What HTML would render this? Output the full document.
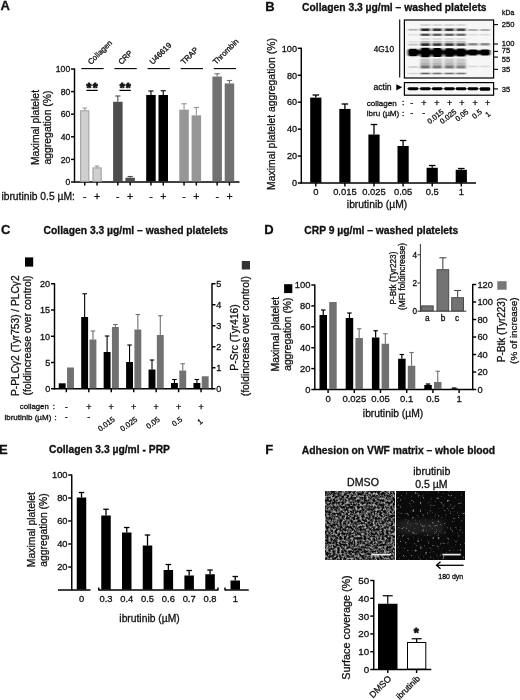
<!DOCTYPE html>
<html lang="en"><head><meta charset="utf-8"><title>Figure</title>
<style>
html,body{margin:0;padding:0;background:#fff;}
body{width:520px;height:700px;overflow:hidden;}
svg{display:block;font-family:"Liberation Sans", sans-serif;}
text{fill:#111;stroke:#111;stroke-width:0.3px;}
</style></head>
<body>
<svg width="520" height="700" viewBox="0 0 520 700" style="filter:blur(0.28px)">
<defs>
<filter id="blur1" x="0" y="0" width="100%" height="100%" filterUnits="userSpaceOnUse"><feGaussianBlur stdDeviation="0.8 0.6"/></filter>
<filter id="blur2" x="0" y="0" width="100%" height="100%" filterUnits="userSpaceOnUse"><feGaussianBlur stdDeviation="0.7 0.5"/></filter>
<filter id="blur3" x="390" y="510" width="80" height="40" filterUnits="userSpaceOnUse"><feGaussianBlur stdDeviation="3 2"/></filter>
<filter id="spk1" x="325.6" y="491.2" width="68.8" height="68.3" filterUnits="userSpaceOnUse" color-interpolation-filters="sRGB">
  <feTurbulence type="fractalNoise" baseFrequency="0.45" numOctaves="4" seed="3" result="n"/>
  <feColorMatrix in="n" type="matrix" values="0 0 0 2.6 -0.93  0 0 0 2.6 -0.93  0 0 0 2.6 -0.93  0 0 0 0 1" result="a"/>
  <feComponentTransfer in="a" result="c"><feFuncR type="table" tableValues="0.045 0.66"/><feFuncG type="table" tableValues="0.045 0.66"/><feFuncB type="table" tableValues="0.045 0.66"/></feComponentTransfer>
  <feGaussianBlur in="c" stdDeviation="0.5"/>
</filter>
<filter id="spk2" x="396.4" y="491.2" width="68" height="68.3" filterUnits="userSpaceOnUse" color-interpolation-filters="sRGB">
  <feTurbulence type="fractalNoise" baseFrequency="0.4" numOctaves="3" seed="11" result="n"/>
  <feColorMatrix in="n" type="matrix" values="0 0 0 4.5 -2.8  0 0 0 4.5 -2.8  0 0 0 4.5 -2.8  0 0 0 0 1" result="a"/>
  <feComponentTransfer in="a" result="c"><feFuncR type="table" tableValues="0.04 0.5"/><feFuncG type="table" tableValues="0.04 0.5"/><feFuncB type="table" tableValues="0.04 0.5"/></feComponentTransfer>
  <feGaussianBlur in="c" stdDeviation="0.4"/>
</filter>
</defs>
<text x="0.5" y="9.8" font-size="13" font-weight="bold">A</text>
<text x="265.3" y="10.5" font-size="13" font-weight="bold">B</text>
<text x="302.1" y="10.5" font-size="10.3" font-weight="bold">Collagen 3.3 µg/ml – washed platelets</text>
<text x="0.9" y="234.3" font-size="13" font-weight="bold">C</text>
<text x="43.6" y="234" font-size="10.3" font-weight="bold">Collagen 3.3 µg/ml – washed platelets</text>
<text x="264.2" y="234.3" font-size="13" font-weight="bold">D</text>
<text x="304.3" y="234" font-size="10.3" font-weight="bold">CRP 9 µg/ml – washed platelets</text>
<text x="-0.9" y="453.5" font-size="13" font-weight="bold">E</text>
<text x="49" y="453.3" font-size="10.3" font-weight="bold">Collagen 3.3 µg/ml - PRP</text>
<text x="265.2" y="453.5" font-size="13" font-weight="bold">F</text>
<text x="301.8" y="453.5" font-size="10.3" font-weight="bold">Adhesion on VWF matrix – whole blood</text>
<line x1="74.50" y1="68.40" x2="74.50" y2="182.60" stroke="#000" stroke-width="1.45"/>
<line x1="73.90" y1="182.00" x2="239.50" y2="182.00" stroke="#000" stroke-width="1.45"/>
<line x1="71.00" y1="182.00" x2="74.50" y2="182.00" stroke="#000" stroke-width="1.45"/>
<text x="70.2" y="185.1" font-size="8.6" text-anchor="end">0</text>
<line x1="71.00" y1="159.40" x2="74.50" y2="159.40" stroke="#000" stroke-width="1.45"/>
<text x="70.2" y="162.5" font-size="8.6" text-anchor="end">20</text>
<line x1="71.00" y1="136.80" x2="74.50" y2="136.80" stroke="#000" stroke-width="1.45"/>
<text x="70.2" y="139.9" font-size="8.6" text-anchor="end">40</text>
<line x1="71.00" y1="114.20" x2="74.50" y2="114.20" stroke="#000" stroke-width="1.45"/>
<text x="70.2" y="117.3" font-size="8.6" text-anchor="end">60</text>
<line x1="71.00" y1="91.60" x2="74.50" y2="91.60" stroke="#000" stroke-width="1.45"/>
<text x="70.2" y="94.7" font-size="8.6" text-anchor="end">80</text>
<line x1="71.00" y1="69.00" x2="74.50" y2="69.00" stroke="#000" stroke-width="1.45"/>
<text x="70.2" y="72.1" font-size="8.6" text-anchor="end">100</text>
<text x="39.2" y="127.5" font-size="10.4" text-anchor="middle" transform="rotate(-90 39.2 127.5)">Maximal platelet</text>
<text x="50.5" y="127.5" font-size="10.4" text-anchor="middle" transform="rotate(-90 50.5 127.5)">aggregation (%)</text>
<line x1="84.75" y1="108.00" x2="84.75" y2="110.81" stroke="#9c9c9c" stroke-width="1.1"/>
<line x1="82.50" y1="108.00" x2="87.00" y2="108.00" stroke="#9c9c9c" stroke-width="1.1"/>
<rect x="80.65" y="110.81" width="8.20" height="70.59" fill="#cfcfcf" stroke="#9c9c9c" stroke-width="1"/>
<line x1="84.75" y1="182.00" x2="84.75" y2="185.50" stroke="#000" stroke-width="1.45"/>
<text x="84.75" y="199.5" font-size="10.5" text-anchor="middle">-</text>
<line x1="97.05" y1="166.00" x2="97.05" y2="167.88" stroke="#9c9c9c" stroke-width="1.1"/>
<line x1="94.80" y1="166.00" x2="99.30" y2="166.00" stroke="#9c9c9c" stroke-width="1.1"/>
<rect x="92.95" y="167.88" width="8.20" height="13.53" fill="#cfcfcf" stroke="#9c9c9c" stroke-width="1"/>
<line x1="97.05" y1="182.00" x2="97.05" y2="185.50" stroke="#000" stroke-width="1.45"/>
<text x="97.05" y="199.5" font-size="10.5" text-anchor="middle">+</text>
<line x1="81.35" y1="68.60" x2="103.65" y2="68.60" stroke="#000" stroke-width="1.1"/>
<text x="90.9" y="65.1" font-size="7.8" transform="rotate(-45 90.9 65.1)">Collagen</text>
<line x1="117.85" y1="96.00" x2="117.85" y2="101.77" stroke="#4d4d4d" stroke-width="1.1"/>
<line x1="115.24" y1="96.00" x2="120.46" y2="96.00" stroke="#4d4d4d" stroke-width="1.1"/>
<rect x="113.10" y="101.77" width="9.50" height="79.63" fill="#4d4d4d"/>
<line x1="117.85" y1="182.00" x2="117.85" y2="185.50" stroke="#000" stroke-width="1.45"/>
<text x="117.85" y="199.5" font-size="10.5" text-anchor="middle">-</text>
<line x1="130.15" y1="176.50" x2="130.15" y2="177.71" stroke="#4d4d4d" stroke-width="1.1"/>
<line x1="127.54" y1="176.50" x2="132.76" y2="176.50" stroke="#4d4d4d" stroke-width="1.1"/>
<rect x="125.40" y="177.71" width="9.50" height="3.69" fill="#4d4d4d"/>
<line x1="130.15" y1="182.00" x2="130.15" y2="185.50" stroke="#000" stroke-width="1.45"/>
<text x="130.15" y="199.5" font-size="10.5" text-anchor="middle">+</text>
<line x1="114.45" y1="68.60" x2="136.75" y2="68.60" stroke="#000" stroke-width="1.1"/>
<text x="121.4" y="65.1" font-size="7.8" transform="rotate(-45 121.4 65.1)">CRP</text>
<line x1="150.95" y1="91.00" x2="150.95" y2="94.99" stroke="#000" stroke-width="1.1"/>
<line x1="148.34" y1="91.00" x2="153.56" y2="91.00" stroke="#000" stroke-width="1.1"/>
<rect x="146.20" y="94.99" width="9.50" height="86.41" fill="#000"/>
<line x1="150.95" y1="182.00" x2="150.95" y2="185.50" stroke="#000" stroke-width="1.45"/>
<text x="150.95" y="199.5" font-size="10.5" text-anchor="middle">-</text>
<line x1="163.25" y1="90.75" x2="163.25" y2="94.99" stroke="#000" stroke-width="1.1"/>
<line x1="160.64" y1="90.75" x2="165.86" y2="90.75" stroke="#000" stroke-width="1.1"/>
<rect x="158.50" y="94.99" width="9.50" height="86.41" fill="#000"/>
<line x1="163.25" y1="182.00" x2="163.25" y2="185.50" stroke="#000" stroke-width="1.45"/>
<text x="163.25" y="199.5" font-size="10.5" text-anchor="middle">+</text>
<line x1="147.55" y1="68.60" x2="169.85" y2="68.60" stroke="#000" stroke-width="1.1"/>
<text x="152.65" y="65.1" font-size="7.8" transform="rotate(-45 152.65 65.1)">U46619</text>
<line x1="184.05" y1="103.75" x2="184.05" y2="109.68" stroke="#969696" stroke-width="1.1"/>
<line x1="181.44" y1="103.75" x2="186.66" y2="103.75" stroke="#969696" stroke-width="1.1"/>
<rect x="179.30" y="109.68" width="9.50" height="71.72" fill="#969696"/>
<line x1="184.05" y1="182.00" x2="184.05" y2="185.50" stroke="#000" stroke-width="1.45"/>
<text x="184.05" y="199.5" font-size="10.5" text-anchor="middle">-</text>
<line x1="196.35" y1="107.50" x2="196.35" y2="115.33" stroke="#969696" stroke-width="1.1"/>
<line x1="193.74" y1="107.50" x2="198.96" y2="107.50" stroke="#969696" stroke-width="1.1"/>
<rect x="191.60" y="115.33" width="9.50" height="66.07" fill="#969696"/>
<line x1="196.35" y1="182.00" x2="196.35" y2="185.50" stroke="#000" stroke-width="1.45"/>
<text x="196.35" y="199.5" font-size="10.5" text-anchor="middle">+</text>
<line x1="180.65" y1="68.60" x2="202.95" y2="68.60" stroke="#000" stroke-width="1.1"/>
<text x="183.9" y="65.1" font-size="7.8" transform="rotate(-45 183.9 65.1)">TRAP</text>
<line x1="217.15" y1="73.75" x2="217.15" y2="76.57" stroke="#717171" stroke-width="1.1"/>
<line x1="214.54" y1="73.75" x2="219.76" y2="73.75" stroke="#717171" stroke-width="1.1"/>
<rect x="212.40" y="76.57" width="9.50" height="104.83" fill="#717171"/>
<line x1="217.15" y1="182.00" x2="217.15" y2="185.50" stroke="#000" stroke-width="1.45"/>
<text x="217.15" y="199.5" font-size="10.5" text-anchor="middle">-</text>
<line x1="229.45" y1="80.50" x2="229.45" y2="83.46" stroke="#717171" stroke-width="1.1"/>
<line x1="226.84" y1="80.50" x2="232.06" y2="80.50" stroke="#717171" stroke-width="1.1"/>
<rect x="224.70" y="83.46" width="9.50" height="97.94" fill="#717171"/>
<line x1="229.45" y1="182.00" x2="229.45" y2="185.50" stroke="#000" stroke-width="1.45"/>
<text x="229.45" y="199.5" font-size="10.5" text-anchor="middle">+</text>
<line x1="213.75" y1="68.60" x2="236.05" y2="68.60" stroke="#000" stroke-width="1.1"/>
<text x="215.9" y="65.1" font-size="7.8" transform="rotate(-45 215.9 65.1)">Thrombin</text>
<line x1="86.35" y1="90.40" x2="97.75" y2="90.40" stroke="#000" stroke-width="1.2"/>
<text x="92.65" y="92.2" font-size="12.5" text-anchor="middle" font-weight="bold" letter-spacing="1.2" style="stroke-width:0.9px">**</text>
<line x1="119.45" y1="90.40" x2="130.85" y2="90.40" stroke="#000" stroke-width="1.2"/>
<text x="125.75" y="92.2" font-size="12.5" text-anchor="middle" font-weight="bold" letter-spacing="1.2" style="stroke-width:0.9px">**</text>
<text x="1.4" y="199.5" font-size="10.3">ibrutinib 0.5 µM:</text>
<line x1="301.30" y1="47.70" x2="301.30" y2="183.60" stroke="#000" stroke-width="1.45"/>
<line x1="300.70" y1="183.00" x2="476.00" y2="183.00" stroke="#000" stroke-width="1.45"/>
<line x1="297.80" y1="183.00" x2="301.30" y2="183.00" stroke="#000" stroke-width="1.45"/>
<text x="297.0" y="186.3" font-size="9.1" text-anchor="end">0</text>
<line x1="297.80" y1="156.06" x2="301.30" y2="156.06" stroke="#000" stroke-width="1.45"/>
<text x="297.0" y="159.36" font-size="9.1" text-anchor="end">20</text>
<line x1="297.80" y1="129.12" x2="301.30" y2="129.12" stroke="#000" stroke-width="1.45"/>
<text x="297.0" y="132.42" font-size="9.1" text-anchor="end">40</text>
<line x1="297.80" y1="102.18" x2="301.30" y2="102.18" stroke="#000" stroke-width="1.45"/>
<text x="297.0" y="105.48" font-size="9.1" text-anchor="end">60</text>
<line x1="297.80" y1="75.24" x2="301.30" y2="75.24" stroke="#000" stroke-width="1.45"/>
<text x="297.0" y="78.54" font-size="9.1" text-anchor="end">80</text>
<line x1="297.80" y1="48.30" x2="301.30" y2="48.30" stroke="#000" stroke-width="1.45"/>
<text x="297.0" y="51.6" font-size="9.1" text-anchor="end">100</text>
<text x="274.7" y="114" font-size="10.4" text-anchor="middle" transform="rotate(-90 274.7 114)">Maximal platelet aggregation (%)</text>
<line x1="315.80" y1="95.00" x2="315.80" y2="97.60" stroke="#000" stroke-width="1.3"/>
<line x1="312.55" y1="95.00" x2="319.05" y2="95.00" stroke="#000" stroke-width="1.3"/>
<rect x="310.20" y="97.60" width="11.20" height="85.00" fill="#000"/>
<line x1="315.80" y1="183.00" x2="315.80" y2="186.50" stroke="#000" stroke-width="1.45"/>
<text x="315.8" y="195.3" font-size="9.4" text-anchor="middle">0</text>
<line x1="344.90" y1="104.00" x2="344.90" y2="108.92" stroke="#000" stroke-width="1.3"/>
<line x1="341.65" y1="104.00" x2="348.15" y2="104.00" stroke="#000" stroke-width="1.3"/>
<rect x="339.30" y="108.92" width="11.20" height="73.68" fill="#000"/>
<line x1="344.90" y1="183.00" x2="344.90" y2="186.50" stroke="#000" stroke-width="1.45"/>
<text x="344.9" y="195.3" font-size="9.4" text-anchor="middle">0.015</text>
<line x1="374.00" y1="124.50" x2="374.00" y2="134.51" stroke="#000" stroke-width="1.3"/>
<line x1="370.75" y1="124.50" x2="377.25" y2="124.50" stroke="#000" stroke-width="1.3"/>
<rect x="368.40" y="134.51" width="11.20" height="48.09" fill="#000"/>
<line x1="374.00" y1="183.00" x2="374.00" y2="186.50" stroke="#000" stroke-width="1.45"/>
<text x="374.0" y="195.3" font-size="9.4" text-anchor="middle">0.025</text>
<line x1="403.10" y1="140.50" x2="403.10" y2="145.96" stroke="#000" stroke-width="1.3"/>
<line x1="399.85" y1="140.50" x2="406.35" y2="140.50" stroke="#000" stroke-width="1.3"/>
<rect x="397.50" y="145.96" width="11.20" height="36.64" fill="#000"/>
<line x1="403.10" y1="183.00" x2="403.10" y2="186.50" stroke="#000" stroke-width="1.45"/>
<text x="403.1" y="195.3" font-size="9.4" text-anchor="middle">0.05</text>
<line x1="432.20" y1="165.50" x2="432.20" y2="167.78" stroke="#000" stroke-width="1.3"/>
<line x1="428.95" y1="165.50" x2="435.45" y2="165.50" stroke="#000" stroke-width="1.3"/>
<rect x="426.60" y="167.78" width="11.20" height="14.82" fill="#000"/>
<line x1="432.20" y1="183.00" x2="432.20" y2="186.50" stroke="#000" stroke-width="1.45"/>
<text x="432.2" y="195.3" font-size="9.4" text-anchor="middle">0.5</text>
<line x1="461.30" y1="168.50" x2="461.30" y2="169.80" stroke="#000" stroke-width="1.3"/>
<line x1="458.05" y1="168.50" x2="464.55" y2="168.50" stroke="#000" stroke-width="1.3"/>
<rect x="455.70" y="169.80" width="11.20" height="12.80" fill="#000"/>
<line x1="461.30" y1="183.00" x2="461.30" y2="186.50" stroke="#000" stroke-width="1.45"/>
<text x="461.3" y="195.3" font-size="9.4" text-anchor="middle">1</text>
<text x="377" y="208.3" font-size="10.3" text-anchor="middle">ibrutinib (µM)</text>
<g filter="url(#blur1)">
<rect x="404.40" y="20.00" width="89.20" height="58.00" fill="#f6f6f6"/>
<rect x="408.1" y="28.95" width="10" height="1.6" fill="#000" opacity="0.30"/>
<rect x="408.1" y="34.05" width="10" height="1.4" fill="#000" opacity="0.10"/>
<rect x="408.1" y="41.15" width="10" height="1.5" fill="#000" opacity="0.10"/>
<rect x="408.1" y="43.70" width="10" height="1.8" fill="#000" opacity="0.22"/>
<rect x="408.1" y="66.00" width="10" height="2" fill="#000" opacity="0.15"/>
<rect x="408.1" y="72.90" width="10" height="1.2" fill="#000" opacity="0.15"/>
<rect x="407.3" y="48.80" width="11.6" height="7.4" rx="2.5" fill="#000"/>
<rect x="420.3" y="24.35" width="10" height="1.3" fill="#000" opacity="0.22"/>
<rect x="420.3" y="28.45" width="10" height="2.6" fill="#000" opacity="0.85"/>
<rect x="420.3" y="33.65" width="10" height="2.2" fill="#000" opacity="0.70"/>
<rect x="420.3" y="38.25" width="10" height="1.5" fill="#000" opacity="0.15"/>
<rect x="420.3" y="40.90" width="10" height="2" fill="#000" opacity="0.25"/>
<rect x="420.3" y="43.30" width="10" height="2.6" fill="#000" opacity="0.85"/>
<rect x="420.3" y="58.50" width="10" height="4" fill="#000" opacity="0.20"/>
<rect x="420.3" y="62.50" width="10" height="3" fill="#000" opacity="0.28"/>
<rect x="420.3" y="65.50" width="10" height="3" fill="#000" opacity="0.55"/>
<rect x="420.3" y="72.70" width="10" height="1.6" fill="#000" opacity="0.60"/>
<rect x="419.5" y="47.70" width="11.6" height="9.6" rx="2.5" fill="#000"/>
<rect x="432.2" y="24.35" width="10" height="1.3" fill="#000" opacity="0.20"/>
<rect x="432.2" y="28.45" width="10" height="2.6" fill="#000" opacity="0.78"/>
<rect x="432.2" y="33.65" width="10" height="2.2" fill="#000" opacity="0.64"/>
<rect x="432.2" y="38.25" width="10" height="1.5" fill="#000" opacity="0.14"/>
<rect x="432.2" y="40.90" width="10" height="2" fill="#000" opacity="0.23"/>
<rect x="432.2" y="43.30" width="10" height="2.6" fill="#000" opacity="0.78"/>
<rect x="432.2" y="58.50" width="10" height="4" fill="#000" opacity="0.18"/>
<rect x="432.2" y="62.50" width="10" height="3" fill="#000" opacity="0.26"/>
<rect x="432.2" y="65.50" width="10" height="3" fill="#000" opacity="0.51"/>
<rect x="432.2" y="72.70" width="10" height="1.6" fill="#000" opacity="0.55"/>
<rect x="431.4" y="47.95" width="11.6" height="9.1" rx="2.5" fill="#000"/>
<rect x="444.4" y="24.35" width="10" height="1.3" fill="#000" opacity="0.20"/>
<rect x="444.4" y="28.45" width="10" height="2.6" fill="#000" opacity="0.78"/>
<rect x="444.4" y="33.65" width="10" height="2.2" fill="#000" opacity="0.64"/>
<rect x="444.4" y="38.25" width="10" height="1.5" fill="#000" opacity="0.14"/>
<rect x="444.4" y="40.90" width="10" height="2" fill="#000" opacity="0.23"/>
<rect x="444.4" y="43.30" width="10" height="2.6" fill="#000" opacity="0.78"/>
<rect x="444.4" y="58.50" width="10" height="4" fill="#000" opacity="0.18"/>
<rect x="444.4" y="62.50" width="10" height="3" fill="#000" opacity="0.26"/>
<rect x="444.4" y="65.50" width="10" height="3" fill="#000" opacity="0.51"/>
<rect x="444.4" y="72.70" width="10" height="1.6" fill="#000" opacity="0.55"/>
<rect x="443.6" y="48.20" width="11.6" height="8.6" rx="2.5" fill="#000"/>
<rect x="456.0" y="24.35" width="10" height="1.3" fill="#000" opacity="0.19"/>
<rect x="456.0" y="28.45" width="10" height="2.6" fill="#000" opacity="0.72"/>
<rect x="456.0" y="33.65" width="10" height="2.2" fill="#000" opacity="0.59"/>
<rect x="456.0" y="38.25" width="10" height="1.5" fill="#000" opacity="0.13"/>
<rect x="456.0" y="40.90" width="10" height="2" fill="#000" opacity="0.21"/>
<rect x="456.0" y="43.30" width="10" height="2.6" fill="#000" opacity="0.72"/>
<rect x="456.0" y="58.50" width="10" height="4" fill="#000" opacity="0.17"/>
<rect x="456.0" y="62.50" width="10" height="3" fill="#000" opacity="0.24"/>
<rect x="456.0" y="65.50" width="10" height="3" fill="#000" opacity="0.47"/>
<rect x="456.0" y="72.70" width="10" height="1.6" fill="#000" opacity="0.51"/>
<rect x="455.2" y="48.45" width="11.6" height="8.1" rx="2.5" fill="#000"/>
<rect x="467.9" y="29.00" width="10" height="2" fill="#000" opacity="0.30"/>
<rect x="467.9" y="34.00" width="10" height="1.4" fill="#000" opacity="0.12"/>
<rect x="467.9" y="43.10" width="10" height="2.4" fill="#000" opacity="0.45"/>
<rect x="467.9" y="65.60" width="10" height="1.6" fill="#000" opacity="0.12"/>
<rect x="467.1" y="49.40" width="11.6" height="6.2" rx="2.5" fill="#000"/>
<rect x="480.0" y="29.00" width="10" height="2" fill="#000" opacity="0.30"/>
<rect x="480.0" y="34.00" width="10" height="1.4" fill="#000" opacity="0.12"/>
<rect x="480.0" y="43.10" width="10" height="2.4" fill="#000" opacity="0.45"/>
<rect x="480.0" y="65.60" width="10" height="1.6" fill="#000" opacity="0.12"/>
<rect x="479.2" y="49.40" width="11.6" height="6.2" rx="2.5" fill="#000"/>
<rect x="407" y="50.5" width="84" height="3.4" fill="#000" opacity="0.8"/>
</g>
<g filter="url(#blur2)">
<rect x="404.40" y="82.60" width="89.20" height="12.60" fill="#f6f6f6"/>
<rect x="407.9" y="87.20" width="10.4" height="3.0" rx="1.4" fill="#000"/>
<rect x="420.1" y="87.20" width="10.4" height="3.0" rx="1.4" fill="#000"/>
<rect x="432.0" y="87.20" width="10.4" height="3.0" rx="1.4" fill="#000"/>
<rect x="444.2" y="87.20" width="10.4" height="3.0" rx="1.4" fill="#000"/>
<rect x="455.8" y="87.20" width="10.4" height="3.0" rx="1.4" fill="#000"/>
<rect x="467.7" y="87.20" width="10.4" height="3.0" rx="1.4" fill="#000"/>
<rect x="479.8" y="87.20" width="10.4" height="3.6" rx="1.4" fill="#000"/>
<rect x="407" y="88" width="83" height="1.4" fill="#000" opacity="0.4"/>
</g>
<rect x="404.40" y="20.00" width="89.20" height="58.00" fill="none" stroke="#000" stroke-width="1.2"/>
<rect x="404.40" y="82.60" width="89.20" height="12.60" fill="none" stroke="#000" stroke-width="1.2"/>
<line x1="399.70" y1="19.50" x2="399.70" y2="77.50" stroke="#000" stroke-width="1.1"/>
<text x="383.9" y="51.5" font-size="8.3" text-anchor="middle">4G10</text>
<text x="382.5" y="89.6" font-size="8.6" text-anchor="middle">actin</text>
<polygon points="396.3,84.2 402.2,87.3 396.3,90.4" fill="#000"/>
<text x="508.2" y="15" font-size="6.9" text-anchor="middle">kDa</text>
<line x1="493.60" y1="24.60" x2="498.00" y2="24.60" stroke="#000" stroke-width="1.1"/>
<text x="501.8" y="27.3" font-size="7.6">250</text>
<line x1="493.60" y1="44.00" x2="498.00" y2="44.00" stroke="#000" stroke-width="1.1"/>
<text x="501.8" y="45.6" font-size="7.6">100</text>
<line x1="493.60" y1="51.40" x2="498.00" y2="51.40" stroke="#000" stroke-width="1.1"/>
<text x="501.8" y="53.4" font-size="7.6">75</text>
<line x1="493.60" y1="57.10" x2="498.00" y2="57.10" stroke="#000" stroke-width="1.1"/>
<text x="501.8" y="62.0" font-size="7.6">55</text>
<line x1="493.60" y1="69.30" x2="498.00" y2="69.30" stroke="#000" stroke-width="1.1"/>
<text x="501.8" y="72.3" font-size="7.6">35</text>
<line x1="493.60" y1="88.90" x2="498.00" y2="88.90" stroke="#000" stroke-width="1.1"/>
<text x="501.8" y="91.6" font-size="7.6">35</text>
<text x="366.7" y="105.7" font-size="8.1">collagen</text>
<text x="403" y="105.3" font-size="8.1" text-anchor="middle">:</text>
<text x="366.7" y="116.3" font-size="8.1">ibru (µM)</text>
<text x="403" y="115.9" font-size="8.1" text-anchor="middle">:</text>
<text x="411.7" y="106" font-size="9" text-anchor="middle">-</text>
<text x="423.8" y="106" font-size="9" text-anchor="middle">+</text>
<text x="437" y="106" font-size="9" text-anchor="middle">+</text>
<text x="449.6" y="106" font-size="9" text-anchor="middle">+</text>
<text x="461.8" y="106" font-size="9" text-anchor="middle">+</text>
<text x="475.2" y="106" font-size="9" text-anchor="middle">+</text>
<text x="487.6" y="106" font-size="9" text-anchor="middle">+</text>
<text x="411.7" y="116.3" font-size="9" text-anchor="middle">-</text>
<text x="423.8" y="116.3" font-size="9" text-anchor="middle">-</text>
<text x="444.3" y="112.8" font-size="7.4" text-anchor="end" transform="rotate(-38 444.3 112.8)">0.015</text>
<text x="456.9" y="112.8" font-size="7.4" text-anchor="end" transform="rotate(-38 456.9 112.8)">0.025</text>
<text x="469.1" y="112.8" font-size="7.4" text-anchor="end" transform="rotate(-38 469.1 112.8)">0.05</text>
<text x="482.5" y="112.8" font-size="7.4" text-anchor="end" transform="rotate(-38 482.5 112.8)">0.5</text>
<text x="491.1" y="115" font-size="7.4" text-anchor="end" transform="rotate(-38 491.1 115)">1</text>
<line x1="54.50" y1="283.15" x2="54.50" y2="389.35" stroke="#000" stroke-width="1.45"/>
<line x1="53.90" y1="388.75" x2="212.60" y2="388.75" stroke="#000" stroke-width="1.45"/>
<line x1="212.00" y1="283.15" x2="212.00" y2="389.35" stroke="#000" stroke-width="1.45"/>
<line x1="51.00" y1="388.75" x2="54.50" y2="388.75" stroke="#000" stroke-width="1.45"/>
<text x="50.2" y="392.05" font-size="9.1" text-anchor="end">0</text>
<line x1="51.00" y1="362.50" x2="54.50" y2="362.50" stroke="#000" stroke-width="1.45"/>
<text x="50.2" y="365.8" font-size="9.1" text-anchor="end">5</text>
<line x1="51.00" y1="336.25" x2="54.50" y2="336.25" stroke="#000" stroke-width="1.45"/>
<text x="50.2" y="339.55" font-size="9.1" text-anchor="end">10</text>
<line x1="51.00" y1="310.00" x2="54.50" y2="310.00" stroke="#000" stroke-width="1.45"/>
<text x="50.2" y="313.3" font-size="9.1" text-anchor="end">15</text>
<line x1="51.00" y1="283.75" x2="54.50" y2="283.75" stroke="#000" stroke-width="1.45"/>
<text x="50.2" y="287.05" font-size="9.1" text-anchor="end">20</text>
<line x1="212.00" y1="388.75" x2="215.50" y2="388.75" stroke="#000" stroke-width="1.45"/>
<text x="216.2" y="392.05" font-size="9.1">0</text>
<line x1="212.00" y1="367.75" x2="215.50" y2="367.75" stroke="#000" stroke-width="1.45"/>
<text x="216.2" y="371.05" font-size="9.1">1</text>
<line x1="212.00" y1="346.75" x2="215.50" y2="346.75" stroke="#000" stroke-width="1.45"/>
<text x="216.2" y="350.05" font-size="9.1">2</text>
<line x1="212.00" y1="325.75" x2="215.50" y2="325.75" stroke="#000" stroke-width="1.45"/>
<text x="216.2" y="329.05" font-size="9.1">3</text>
<line x1="212.00" y1="304.75" x2="215.50" y2="304.75" stroke="#000" stroke-width="1.45"/>
<text x="216.2" y="308.05" font-size="9.1">4</text>
<line x1="212.00" y1="283.75" x2="215.50" y2="283.75" stroke="#000" stroke-width="1.45"/>
<text x="216.2" y="287.05" font-size="9.1">5</text>
<rect x="25.00" y="257.40" width="8.20" height="9.20" fill="#000"/>
<rect x="241.80" y="261.00" width="8.20" height="8.50" fill="#333"/>
<text x="18.7" y="335.7" font-size="10.2" text-anchor="middle" transform="rotate(-90 18.7 335.7)">P-PLCγ2 (Tyr753) / PLCγ2</text>
<text x="31.3" y="335.5" font-size="10.4" text-anchor="middle" transform="rotate(-90 31.3 335.5)">(foldincrease over control)</text>
<text x="237.5" y="337.5" font-size="10.2" text-anchor="middle" transform="rotate(-90 237.5 337.5)">P-Src (Tyr416)</text>
<text x="249.5" y="336.2" font-size="10.4" text-anchor="middle" transform="rotate(-90 249.5 336.2)">(foldincrease over control)</text>
<rect x="58.75" y="383.30" width="6.90" height="5.05" fill="#000"/>
<rect x="67.05" y="367.50" width="6.90" height="20.85" fill="#717171"/>
<line x1="66.35" y1="388.75" x2="66.35" y2="392.25" stroke="#000" stroke-width="1.45"/>
<line x1="84.65" y1="293.75" x2="84.65" y2="317.00" stroke="#000" stroke-width="1.1"/>
<line x1="82.40" y1="293.75" x2="86.90" y2="293.75" stroke="#000" stroke-width="1.1"/>
<rect x="81.20" y="317.00" width="6.90" height="71.35" fill="#000"/>
<line x1="92.95" y1="331.00" x2="92.95" y2="339.50" stroke="#717171" stroke-width="1.1"/>
<line x1="90.70" y1="331.00" x2="95.20" y2="331.00" stroke="#717171" stroke-width="1.1"/>
<rect x="89.50" y="339.50" width="6.90" height="48.85" fill="#717171"/>
<line x1="88.80" y1="388.75" x2="88.80" y2="392.25" stroke="#000" stroke-width="1.45"/>
<line x1="107.10" y1="336.00" x2="107.10" y2="352.00" stroke="#000" stroke-width="1.1"/>
<line x1="104.85" y1="336.00" x2="109.35" y2="336.00" stroke="#000" stroke-width="1.1"/>
<rect x="103.65" y="352.00" width="6.90" height="36.35" fill="#000"/>
<line x1="115.40" y1="324.50" x2="115.40" y2="327.00" stroke="#717171" stroke-width="1.1"/>
<line x1="113.15" y1="324.50" x2="117.65" y2="324.50" stroke="#717171" stroke-width="1.1"/>
<rect x="111.95" y="327.00" width="6.90" height="61.35" fill="#717171"/>
<line x1="111.25" y1="388.75" x2="111.25" y2="392.25" stroke="#000" stroke-width="1.45"/>
<line x1="129.55" y1="345.00" x2="129.55" y2="362.00" stroke="#000" stroke-width="1.1"/>
<line x1="127.30" y1="345.00" x2="131.80" y2="345.00" stroke="#000" stroke-width="1.1"/>
<rect x="126.10" y="362.00" width="6.90" height="26.35" fill="#000"/>
<line x1="137.85" y1="314.50" x2="137.85" y2="329.50" stroke="#717171" stroke-width="1.1"/>
<line x1="135.60" y1="314.50" x2="140.10" y2="314.50" stroke="#717171" stroke-width="1.1"/>
<rect x="134.40" y="329.50" width="6.90" height="58.85" fill="#717171"/>
<line x1="133.70" y1="388.75" x2="133.70" y2="392.25" stroke="#000" stroke-width="1.45"/>
<line x1="152.00" y1="360.00" x2="152.00" y2="369.50" stroke="#000" stroke-width="1.1"/>
<line x1="149.75" y1="360.00" x2="154.25" y2="360.00" stroke="#000" stroke-width="1.1"/>
<rect x="148.55" y="369.50" width="6.90" height="18.85" fill="#000"/>
<line x1="160.30" y1="315.75" x2="160.30" y2="335.00" stroke="#717171" stroke-width="1.1"/>
<line x1="158.05" y1="315.75" x2="162.55" y2="315.75" stroke="#717171" stroke-width="1.1"/>
<rect x="156.85" y="335.00" width="6.90" height="53.35" fill="#717171"/>
<line x1="156.15" y1="388.75" x2="156.15" y2="392.25" stroke="#000" stroke-width="1.45"/>
<line x1="174.45" y1="379.50" x2="174.45" y2="383.00" stroke="#000" stroke-width="1.1"/>
<line x1="172.20" y1="379.50" x2="176.70" y2="379.50" stroke="#000" stroke-width="1.1"/>
<rect x="171.00" y="383.00" width="6.90" height="5.35" fill="#000"/>
<line x1="182.75" y1="363.75" x2="182.75" y2="370.50" stroke="#717171" stroke-width="1.1"/>
<line x1="180.50" y1="363.75" x2="185.00" y2="363.75" stroke="#717171" stroke-width="1.1"/>
<rect x="179.30" y="370.50" width="6.90" height="17.85" fill="#717171"/>
<line x1="178.60" y1="388.75" x2="178.60" y2="392.25" stroke="#000" stroke-width="1.45"/>
<line x1="196.90" y1="379.50" x2="196.90" y2="383.00" stroke="#000" stroke-width="1.1"/>
<line x1="194.65" y1="379.50" x2="199.15" y2="379.50" stroke="#000" stroke-width="1.1"/>
<rect x="193.45" y="383.00" width="6.90" height="5.35" fill="#000"/>
<rect x="201.75" y="376.25" width="6.90" height="12.10" fill="#717171"/>
<line x1="201.05" y1="388.75" x2="201.05" y2="392.25" stroke="#000" stroke-width="1.45"/>
<text x="48.8" y="409.3" font-size="7.8" text-anchor="end">collagen</text>
<text x="53.8" y="409" font-size="7.8" text-anchor="middle">:</text>
<text x="51.3" y="420" font-size="8.0" text-anchor="end">ibrutinib (µM)</text>
<text x="55.5" y="419.7" font-size="7.8" text-anchor="middle">:</text>
<text x="66.35" y="409.6" font-size="9" text-anchor="middle">-</text>
<text x="88.8" y="409.6" font-size="9" text-anchor="middle">+</text>
<text x="111.25" y="409.6" font-size="9" text-anchor="middle">+</text>
<text x="133.7" y="409.6" font-size="9" text-anchor="middle">+</text>
<text x="156.15" y="409.6" font-size="9" text-anchor="middle">+</text>
<text x="178.6" y="409.6" font-size="9" text-anchor="middle">+</text>
<text x="201.05" y="409.6" font-size="9" text-anchor="middle">+</text>
<text x="66.35" y="420.3" font-size="9" text-anchor="middle">-</text>
<text x="88.8" y="420.3" font-size="9" text-anchor="middle">-</text>
<text x="115.55" y="420.6" font-size="7.6" text-anchor="end" transform="rotate(-36 115.55 420.6)">0.015</text>
<text x="138.0" y="420.6" font-size="7.6" text-anchor="end" transform="rotate(-36 138.0 420.6)">0.025</text>
<text x="160.45" y="420.6" font-size="7.6" text-anchor="end" transform="rotate(-36 160.45 420.6)">0.05</text>
<text x="182.9" y="420.6" font-size="7.6" text-anchor="end" transform="rotate(-36 182.9 420.6)">0.5</text>
<text x="203.25" y="422.5" font-size="7.6" text-anchor="end" transform="rotate(-36 203.25 422.5)">1</text>
<line x1="314.80" y1="284.40" x2="314.80" y2="390.10" stroke="#000" stroke-width="1.45"/>
<line x1="314.20" y1="389.50" x2="473.30" y2="389.50" stroke="#000" stroke-width="1.45"/>
<line x1="472.70" y1="283.90" x2="472.70" y2="390.10" stroke="#000" stroke-width="1.45"/>
<line x1="311.30" y1="389.50" x2="314.80" y2="389.50" stroke="#000" stroke-width="1.45"/>
<text x="310.5" y="392.8" font-size="9.4" text-anchor="end">0</text>
<line x1="311.30" y1="368.60" x2="314.80" y2="368.60" stroke="#000" stroke-width="1.45"/>
<text x="310.5" y="371.9" font-size="9.4" text-anchor="end">20</text>
<line x1="311.30" y1="347.70" x2="314.80" y2="347.70" stroke="#000" stroke-width="1.45"/>
<text x="310.5" y="351.0" font-size="9.4" text-anchor="end">40</text>
<line x1="311.30" y1="326.80" x2="314.80" y2="326.80" stroke="#000" stroke-width="1.45"/>
<text x="310.5" y="330.1" font-size="9.4" text-anchor="end">60</text>
<line x1="311.30" y1="305.90" x2="314.80" y2="305.90" stroke="#000" stroke-width="1.45"/>
<text x="310.5" y="309.2" font-size="9.4" text-anchor="end">80</text>
<line x1="311.30" y1="285.00" x2="314.80" y2="285.00" stroke="#000" stroke-width="1.45"/>
<text x="310.5" y="288.3" font-size="9.4" text-anchor="end">100</text>
<line x1="472.70" y1="389.50" x2="476.20" y2="389.50" stroke="#000" stroke-width="1.45"/>
<text x="477.4" y="392.8" font-size="9.3">0</text>
<line x1="472.70" y1="372.00" x2="476.20" y2="372.00" stroke="#000" stroke-width="1.45"/>
<text x="477.4" y="375.3" font-size="9.3">20</text>
<line x1="472.70" y1="354.50" x2="476.20" y2="354.50" stroke="#000" stroke-width="1.45"/>
<text x="477.4" y="357.8" font-size="9.3">40</text>
<line x1="472.70" y1="337.00" x2="476.20" y2="337.00" stroke="#000" stroke-width="1.45"/>
<text x="477.4" y="340.3" font-size="9.3">60</text>
<line x1="472.70" y1="319.50" x2="476.20" y2="319.50" stroke="#000" stroke-width="1.45"/>
<text x="477.4" y="322.8" font-size="9.3">80</text>
<line x1="472.70" y1="302.00" x2="476.20" y2="302.00" stroke="#000" stroke-width="1.45"/>
<text x="477.4" y="305.3" font-size="9.3">100</text>
<line x1="472.70" y1="284.50" x2="476.20" y2="284.50" stroke="#000" stroke-width="1.45"/>
<text x="477.4" y="287.8" font-size="9.3">120</text>
<rect x="284.10" y="284.20" width="8.20" height="8.90" fill="#000"/>
<rect x="497.30" y="281.20" width="9.30" height="8.50" fill="#777"/>
<text x="279" y="334.2" font-size="10.3" text-anchor="middle" transform="rotate(-90 279 334.2)">Maximal platelet</text>
<text x="291" y="334.2" font-size="10.3" text-anchor="middle" transform="rotate(-90 291 334.2)">aggregation (%)</text>
<text x="504.8" y="330" font-size="10.0" text-anchor="middle" transform="rotate(-90 504.8 330)">P-Btk (Tyr223)</text>
<text x="516.8" y="330.7" font-size="9.9" text-anchor="middle" transform="rotate(-90 516.8 330.7)">(% of increase)</text>
<line x1="323.25" y1="310.00" x2="323.25" y2="315.00" stroke="#000" stroke-width="1.2"/>
<line x1="321.00" y1="310.00" x2="325.50" y2="310.00" stroke="#000" stroke-width="1.2"/>
<rect x="319.50" y="315.00" width="7.50" height="74.10" fill="#000"/>
<rect x="329.20" y="302.00" width="7.50" height="87.10" fill="#717171"/>
<line x1="328.10" y1="389.50" x2="328.10" y2="393.00" stroke="#000" stroke-width="1.45"/>
<text x="328.1" y="402" font-size="9.5" text-anchor="middle">0</text>
<line x1="349.45" y1="313.00" x2="349.45" y2="318.00" stroke="#000" stroke-width="1.2"/>
<line x1="347.20" y1="313.00" x2="351.70" y2="313.00" stroke="#000" stroke-width="1.2"/>
<rect x="345.70" y="318.00" width="7.50" height="71.10" fill="#000"/>
<line x1="359.15" y1="328.75" x2="359.15" y2="338.00" stroke="#717171" stroke-width="1.1"/>
<line x1="356.90" y1="328.75" x2="361.40" y2="328.75" stroke="#717171" stroke-width="1.1"/>
<rect x="355.40" y="338.00" width="7.50" height="51.10" fill="#717171"/>
<line x1="354.30" y1="389.50" x2="354.30" y2="393.00" stroke="#000" stroke-width="1.45"/>
<text x="354.3" y="402" font-size="9.5" text-anchor="middle">0.025</text>
<line x1="375.65" y1="330.75" x2="375.65" y2="337.50" stroke="#000" stroke-width="1.2"/>
<line x1="373.40" y1="330.75" x2="377.90" y2="330.75" stroke="#000" stroke-width="1.2"/>
<rect x="371.90" y="337.50" width="7.50" height="51.60" fill="#000"/>
<line x1="385.35" y1="333.75" x2="385.35" y2="343.75" stroke="#717171" stroke-width="1.1"/>
<line x1="383.10" y1="333.75" x2="387.60" y2="333.75" stroke="#717171" stroke-width="1.1"/>
<rect x="381.60" y="343.75" width="7.50" height="45.35" fill="#717171"/>
<line x1="380.50" y1="389.50" x2="380.50" y2="393.00" stroke="#000" stroke-width="1.45"/>
<text x="380.5" y="402" font-size="9.5" text-anchor="middle">0.05</text>
<line x1="401.85" y1="354.50" x2="401.85" y2="358.75" stroke="#000" stroke-width="1.2"/>
<line x1="399.60" y1="354.50" x2="404.10" y2="354.50" stroke="#000" stroke-width="1.2"/>
<rect x="398.10" y="358.75" width="7.50" height="30.35" fill="#000"/>
<line x1="411.55" y1="352.50" x2="411.55" y2="365.75" stroke="#717171" stroke-width="1.1"/>
<line x1="409.30" y1="352.50" x2="413.80" y2="352.50" stroke="#717171" stroke-width="1.1"/>
<rect x="407.80" y="365.75" width="7.50" height="23.35" fill="#717171"/>
<line x1="406.70" y1="389.50" x2="406.70" y2="393.00" stroke="#000" stroke-width="1.45"/>
<text x="406.7" y="402" font-size="9.5" text-anchor="middle">0.1</text>
<line x1="428.05" y1="384.00" x2="428.05" y2="385.00" stroke="#000" stroke-width="1.2"/>
<line x1="425.80" y1="384.00" x2="430.30" y2="384.00" stroke="#000" stroke-width="1.2"/>
<rect x="424.30" y="385.00" width="7.50" height="4.10" fill="#000"/>
<line x1="437.75" y1="371.25" x2="437.75" y2="382.00" stroke="#717171" stroke-width="1.1"/>
<line x1="435.50" y1="371.25" x2="440.00" y2="371.25" stroke="#717171" stroke-width="1.1"/>
<rect x="434.00" y="382.00" width="7.50" height="7.10" fill="#717171"/>
<line x1="432.90" y1="389.50" x2="432.90" y2="393.00" stroke="#000" stroke-width="1.45"/>
<text x="432.9" y="402" font-size="9.5" text-anchor="middle">0.5</text>
<line x1="454.25" y1="388.00" x2="454.25" y2="388.60" stroke="#000" stroke-width="1.2"/>
<line x1="452.00" y1="388.00" x2="456.50" y2="388.00" stroke="#000" stroke-width="1.2"/>
<rect x="450.50" y="388.60" width="7.50" height="0.50" fill="#000"/>
<line x1="459.10" y1="389.50" x2="459.10" y2="393.00" stroke="#000" stroke-width="1.45"/>
<text x="459.1" y="402" font-size="9.5" text-anchor="middle">1</text>
<text x="393" y="417" font-size="10.3" text-anchor="middle">ibrutinib (µM)</text>
<line x1="420.40" y1="244.00" x2="420.40" y2="311.70" stroke="#333" stroke-width="1.0"/>
<line x1="419.90" y1="311.20" x2="466.30" y2="311.20" stroke="#333" stroke-width="1.0"/>
<line x1="417.40" y1="311.20" x2="420.40" y2="311.20" stroke="#333" stroke-width="1.0"/>
<text x="417.0" y="314.1" font-size="8.2" text-anchor="end">0</text>
<line x1="417.40" y1="283.00" x2="420.40" y2="283.00" stroke="#333" stroke-width="1.0"/>
<text x="417.0" y="285.9" font-size="8.2" text-anchor="end">2</text>
<line x1="417.40" y1="254.80" x2="420.40" y2="254.80" stroke="#333" stroke-width="1.0"/>
<text x="417.0" y="257.7" font-size="8.2" text-anchor="end">4</text>
<rect x="421.60" y="305.90" width="11.60" height="4.90" fill="#727272" stroke="#4c4c4c" stroke-width="1"/>
<line x1="442.85" y1="257.80" x2="442.85" y2="269.70" stroke="#4c4c4c" stroke-width="1.1"/>
<line x1="439.35" y1="257.80" x2="446.35" y2="257.80" stroke="#4c4c4c" stroke-width="1.1"/>
<rect x="437.00" y="269.70" width="11.70" height="41.10" fill="#727272" stroke="#4c4c4c" stroke-width="1"/>
<line x1="457.60" y1="290.50" x2="457.60" y2="297.70" stroke="#4c4c4c" stroke-width="1.1"/>
<line x1="454.10" y1="290.50" x2="461.10" y2="290.50" stroke="#4c4c4c" stroke-width="1.1"/>
<rect x="451.70" y="297.70" width="11.80" height="13.10" fill="#727272" stroke="#4c4c4c" stroke-width="1"/>
<text x="427.2" y="321.3" font-size="8.3" text-anchor="middle">a</text>
<text x="443" y="321.3" font-size="8.3" text-anchor="middle">b</text>
<text x="457" y="321.3" font-size="8.3" text-anchor="middle">c</text>
<text x="395.8" y="278" font-size="8.2" text-anchor="middle" transform="rotate(-90 395.8 278)">P-Btk (Tyr223)</text>
<text x="404.6" y="276.5" font-size="8.3" text-anchor="middle" transform="rotate(-90 404.6 276.5)">(MFI foldincrease)</text>
<line x1="71.75" y1="474.40" x2="71.75" y2="590.60" stroke="#000" stroke-width="1.45"/>
<line x1="58.00" y1="590.00" x2="90.50" y2="590.00" stroke="#000" stroke-width="1.45"/>
<line x1="98.75" y1="590.00" x2="218.00" y2="590.00" stroke="#000" stroke-width="1.45"/>
<line x1="98.75" y1="587.50" x2="98.75" y2="590.60" stroke="#000" stroke-width="1.45"/>
<line x1="218.00" y1="587.50" x2="218.00" y2="590.60" stroke="#000" stroke-width="1.45"/>
<line x1="225.00" y1="590.00" x2="248.75" y2="590.00" stroke="#000" stroke-width="1.45"/>
<line x1="225.00" y1="587.50" x2="225.00" y2="590.60" stroke="#000" stroke-width="1.45"/>
<line x1="68.25" y1="567.00" x2="71.75" y2="567.00" stroke="#000" stroke-width="1.45"/>
<text x="67.55" y="570.3" font-size="9.3" text-anchor="end">20</text>
<line x1="68.25" y1="544.00" x2="71.75" y2="544.00" stroke="#000" stroke-width="1.45"/>
<text x="67.55" y="547.3" font-size="9.3" text-anchor="end">40</text>
<line x1="68.25" y1="521.00" x2="71.75" y2="521.00" stroke="#000" stroke-width="1.45"/>
<text x="67.55" y="524.3" font-size="9.3" text-anchor="end">60</text>
<line x1="68.25" y1="498.00" x2="71.75" y2="498.00" stroke="#000" stroke-width="1.45"/>
<text x="67.55" y="501.3" font-size="9.3" text-anchor="end">80</text>
<line x1="68.25" y1="475.00" x2="71.75" y2="475.00" stroke="#000" stroke-width="1.45"/>
<text x="67.55" y="478.3" font-size="9.3" text-anchor="end">100</text>
<text x="34.6" y="529.6" font-size="10.4" text-anchor="middle" transform="rotate(-90 34.6 529.6)">Maximal platelet</text>
<text x="47" y="530" font-size="10.3" text-anchor="middle" transform="rotate(-90 47 530)">aggregation (%)</text>
<line x1="81.50" y1="492.50" x2="81.50" y2="497.50" stroke="#000" stroke-width="1.3"/>
<line x1="78.75" y1="492.50" x2="84.25" y2="492.50" stroke="#000" stroke-width="1.3"/>
<rect x="76.75" y="497.50" width="9.50" height="92.10" fill="#000"/>
<text x="81.5" y="601.5" font-size="9.4" text-anchor="middle">0</text>
<line x1="106.00" y1="509.25" x2="106.00" y2="515.50" stroke="#000" stroke-width="1.3"/>
<line x1="103.25" y1="509.25" x2="108.75" y2="509.25" stroke="#000" stroke-width="1.3"/>
<rect x="101.25" y="515.50" width="9.50" height="74.10" fill="#000"/>
<text x="106.0" y="601.5" font-size="9.4" text-anchor="middle">0.3</text>
<line x1="126.75" y1="527.50" x2="126.75" y2="532.50" stroke="#000" stroke-width="1.3"/>
<line x1="124.00" y1="527.50" x2="129.50" y2="527.50" stroke="#000" stroke-width="1.3"/>
<rect x="122.00" y="532.50" width="9.50" height="57.10" fill="#000"/>
<text x="126.75" y="601.5" font-size="9.4" text-anchor="middle">0.4</text>
<line x1="147.50" y1="535.00" x2="147.50" y2="545.50" stroke="#000" stroke-width="1.3"/>
<line x1="144.75" y1="535.00" x2="150.25" y2="535.00" stroke="#000" stroke-width="1.3"/>
<rect x="142.75" y="545.50" width="9.50" height="44.10" fill="#000"/>
<text x="147.5" y="601.5" font-size="9.4" text-anchor="middle">0.5</text>
<line x1="168.35" y1="564.50" x2="168.35" y2="570.00" stroke="#000" stroke-width="1.3"/>
<line x1="165.60" y1="564.50" x2="171.10" y2="564.50" stroke="#000" stroke-width="1.3"/>
<rect x="163.60" y="570.00" width="9.50" height="19.60" fill="#000"/>
<text x="168.35" y="601.5" font-size="9.4" text-anchor="middle">0.6</text>
<line x1="189.15" y1="570.50" x2="189.15" y2="575.50" stroke="#000" stroke-width="1.3"/>
<line x1="186.40" y1="570.50" x2="191.90" y2="570.50" stroke="#000" stroke-width="1.3"/>
<rect x="184.40" y="575.50" width="9.50" height="14.10" fill="#000"/>
<text x="189.15" y="601.5" font-size="9.4" text-anchor="middle">0.7</text>
<line x1="210.05" y1="570.00" x2="210.05" y2="574.25" stroke="#000" stroke-width="1.3"/>
<line x1="207.30" y1="570.00" x2="212.80" y2="570.00" stroke="#000" stroke-width="1.3"/>
<rect x="205.30" y="574.25" width="9.50" height="15.35" fill="#000"/>
<text x="210.05" y="601.5" font-size="9.4" text-anchor="middle">0.8</text>
<line x1="235.25" y1="576.50" x2="235.25" y2="580.50" stroke="#000" stroke-width="1.3"/>
<line x1="232.50" y1="576.50" x2="238.00" y2="576.50" stroke="#000" stroke-width="1.3"/>
<rect x="230.50" y="580.50" width="9.50" height="9.10" fill="#000"/>
<text x="235.25" y="601.5" font-size="9.4" text-anchor="middle">1</text>
<text x="149.5" y="622" font-size="10.3" text-anchor="middle">ibrutinib (µM)</text>
<g>
<rect x="325.60" y="490.70" width="68.80" height="68.80" fill="#444" filter="url(#spk1)"/>
<rect x="396.40" y="490.70" width="68.00" height="68.80" fill="#111" filter="url(#spk2)"/>
<rect x="398" y="520" width="46" height="14" fill="#fff" opacity="0.085" filter="url(#blur3)"/>
</g>
<line x1="371.70" y1="554.60" x2="390.60" y2="554.60" stroke="#eee" stroke-width="1.7"/>
<line x1="442.40" y1="554.60" x2="460.60" y2="554.60" stroke="#eee" stroke-width="1.7"/>
<text x="363" y="485.8" font-size="10.6" text-anchor="middle">DMSO</text>
<text x="431.8" y="475.3" font-size="10.6" text-anchor="middle">ibrutinib</text>
<text x="431.4" y="487.6" font-size="10.5" text-anchor="middle">0.5 µM</text>
<line x1="437.00" y1="565.30" x2="463.60" y2="565.30" stroke="#000" stroke-width="1.3"/>
<polyline points="440.5,561.8 436.5,565.3 440.5,568.8" fill="none" stroke="#000" stroke-width="1.3"/>
<text x="450.8" y="578.5" font-size="7" text-anchor="middle">180 dyn</text>
<line x1="373.75" y1="579.90" x2="373.75" y2="670.10" stroke="#000" stroke-width="1.45"/>
<line x1="373.15" y1="669.50" x2="431.30" y2="669.50" stroke="#000" stroke-width="1.45"/>
<line x1="370.25" y1="669.50" x2="373.75" y2="669.50" stroke="#000" stroke-width="1.45"/>
<text x="369.25" y="672.9" font-size="9.8" text-anchor="end">0</text>
<line x1="370.25" y1="651.70" x2="373.75" y2="651.70" stroke="#000" stroke-width="1.45"/>
<text x="369.25" y="655.1" font-size="9.8" text-anchor="end">10</text>
<line x1="370.25" y1="633.90" x2="373.75" y2="633.90" stroke="#000" stroke-width="1.45"/>
<text x="369.25" y="637.3" font-size="9.8" text-anchor="end">20</text>
<line x1="370.25" y1="616.10" x2="373.75" y2="616.10" stroke="#000" stroke-width="1.45"/>
<text x="369.25" y="619.5" font-size="9.8" text-anchor="end">30</text>
<line x1="370.25" y1="598.30" x2="373.75" y2="598.30" stroke="#000" stroke-width="1.45"/>
<text x="369.25" y="601.7" font-size="9.8" text-anchor="end">40</text>
<line x1="370.25" y1="580.50" x2="373.75" y2="580.50" stroke="#000" stroke-width="1.45"/>
<text x="369.25" y="583.9" font-size="9.8" text-anchor="end">50</text>
<text x="350" y="627.5" font-size="10.8" text-anchor="middle" transform="rotate(-90 350 627.5)">Surface coverage (%)</text>
<line x1="387.75" y1="595.75" x2="387.75" y2="603.75" stroke="#000" stroke-width="1.2"/>
<line x1="382.75" y1="595.75" x2="392.75" y2="595.75" stroke="#000" stroke-width="1.2"/>
<rect x="378.00" y="603.75" width="19.50" height="65.35" fill="#000"/>
<line x1="416.65" y1="638.75" x2="416.65" y2="642.50" stroke="#000" stroke-width="1.2"/>
<line x1="411.65" y1="638.75" x2="421.65" y2="638.75" stroke="#000" stroke-width="1.2"/>
<rect x="407.50" y="642.50" width="18.30" height="26.50" fill="#fff" stroke="#000" stroke-width="1"/>
<line x1="387.75" y1="669.50" x2="387.75" y2="673.00" stroke="#000" stroke-width="1.45"/>
<line x1="416.60" y1="669.50" x2="416.60" y2="673.00" stroke="#000" stroke-width="1.45"/>
<text x="416.4" y="636.5" font-size="13" text-anchor="middle" font-weight="bold" style="stroke-width:0.8px">*</text>
<text x="392" y="679.3" font-size="9" text-anchor="end" transform="rotate(-45 392 679.3)">DMSO</text>
<text x="420.5" y="679.2" font-size="8.4" text-anchor="end" transform="rotate(-45 420.5 679.2)">ibrutinib</text>
</svg>
</body></html>
